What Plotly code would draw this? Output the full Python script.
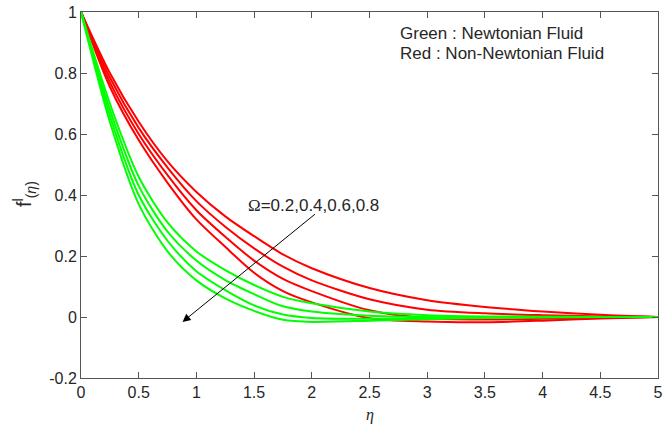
import plotly.graph_objects as go

eta = [0, 0.25, 0.5, 0.75, 1.0, 1.25, 1.5, 1.75, 2.0, 2.5, 3.0, 3.5, 4.0, 4.5, 5.0]

# Non-Newtonian fluid (red), Omega = 0.2, 0.4, 0.6, 0.8
red_02 = [1, 0.80, 0.64, 0.51, 0.41, 0.33, 0.265, 0.205, 0.16, 0.095, 0.055, 0.033, 0.018, 0.007, 0]
red_04 = [1, 0.785, 0.62, 0.49, 0.38, 0.296, 0.225, 0.165, 0.12, 0.058, 0.024, 0.012, 0.006, 0.002, 0]
red_06 = [1, 0.77, 0.60, 0.465, 0.35, 0.263, 0.185, 0.125, 0.085, 0.022, -0.004, -0.008, -0.006, -0.003, 0]
red_08 = [1, 0.755, 0.58, 0.44, 0.32, 0.23, 0.145, 0.085, 0.048, -0.004, -0.015, -0.017, -0.012, -0.005, 0]

# Newtonian fluid (green), Omega = 0.2, 0.4, 0.6, 0.8
green_02 = [1, 0.70, 0.46, 0.31, 0.215, 0.154, 0.105, 0.066, 0.045, 0.018, 0.006, 0.002, 0.001, 0.0, 0]
green_04 = [1, 0.68, 0.43, 0.28, 0.185, 0.121, 0.075, 0.035, 0.018, 0.004, 0.0, -0.001, 0.0, 0.0, 0]
green_06 = [1, 0.66, 0.40, 0.25, 0.15, 0.088, 0.038, 0.008, -0.003, -0.006, -0.004, -0.002, -0.001, 0.0, 0]
green_08 = [1, 0.64, 0.37, 0.215, 0.12, 0.061, 0.02, -0.009, -0.016, -0.012, -0.007, -0.003, -0.001, 0.0, 0]

x_ticks = [0, 0.5, 1, 1.5, 2, 2.5, 3, 3.5, 4, 4.5, 5]
x_tick_labels = ["0", "0.5", "1", "1.5", "2", "2.5", "3", "3.5", "4", "4.5", "5"]
y_ticks = [-0.2, 0, 0.2, 0.4, 0.6, 0.8, 1]
y_tick_labels = ["-0.2", "0", "0.2", "0.4", "0.6", "0.8", "1"]

RED = "#FF0000"
GREEN = "#00FF00"
FONT = "Liberation Sans, Arial, sans-serif"
TXT = "#262626"

fig = go.Figure()
for ys in [red_02, red_04, red_06, red_08]:
    fig.add_trace(go.Scatter(x=eta, y=ys, mode="lines", line=dict(color=RED, width=2, shape="spline", smoothing=0.8),
                             showlegend=False, hoverinfo="skip"))
for ys in [green_02, green_04, green_06, green_08]:
    fig.add_trace(go.Scatter(x=eta, y=ys, mode="lines", line=dict(color=GREEN, width=2, shape="spline", smoothing=0.8),
                             showlegend=False, hoverinfo="skip"))

axis_common = dict(showline=True, linecolor="#555555", linewidth=1, mirror="ticks", ticks="inside",
                   ticklen=6, tickcolor="#555555", showgrid=False, zeroline=False, automargin=False,
                   tickfont=dict(family=FONT, size=16, color=TXT))

fig.update_xaxes(range=[0, 5], tickvals=x_ticks, ticktext=x_tick_labels, **axis_common)
fig.update_yaxes(range=[-0.2, 1], tickvals=y_ticks, ticktext=y_tick_labels, **axis_common)

annotations = [
    dict(text="Green : Newtonian Fluid", xref="paper", yref="paper", x=(398 - 81) / 577, y=(378 - 34) / 366,
         xanchor="left", yanchor="middle", showarrow=False, font=dict(family=FONT, size=17, color=TXT)),
    dict(text="Red : Non-Newtonian Fluid", xref="paper", yref="paper", x=(398 - 81) / 577, y=(378 - 53) / 366,
         xanchor="left", yanchor="middle", showarrow=False, font=dict(family=FONT, size=17, color=TXT)),
    dict(text="<span style='font-family:Liberation Serif'>Ω</span>=0.2,0.4,0.6,0.8", xref="x", yref="y",
         x=1.43, y=0.367, xanchor="left", yanchor="middle", showarrow=False,
         font=dict(family=FONT, size=17, color=TXT)),
    dict(text="", x=0.88, y=-0.016, xref="x", yref="y", ax=2.04, ay=0.341, axref="x", ayref="y",
         showarrow=True, arrowhead=2, arrowsize=1.6, arrowwidth=1, arrowcolor="#000000"),
    dict(text="<i>η</i>", xref="paper", yref="paper", x=0.5, y=(378 - 415) / 366, xanchor="center",
         yanchor="middle", showarrow=False, font=dict(family="Liberation Serif, serif", size=16, color=TXT)),
    dict(text="f<sup>l</sup><sub>(<i>η</i>)</sub>", xref="paper", yref="paper", x=(24 - 81) / 577,
         y=(378 - 194) / 366, xanchor="center", yanchor="middle", textangle=-90, showarrow=False,
         font=dict(family=FONT, size=20, color=TXT)),
]

fig.update_layout(width=665, height=428, margin=dict(l=81, r=7, t=12, b=50),
                  plot_bgcolor="white", paper_bgcolor="white", annotations=annotations)

fig.write_html("out.html", config={"displayModeBar": False},
               post_script="document.body.style.margin='0';document.body.style.padding='0';"
                           "document.documentElement.style.overflow='hidden';")
